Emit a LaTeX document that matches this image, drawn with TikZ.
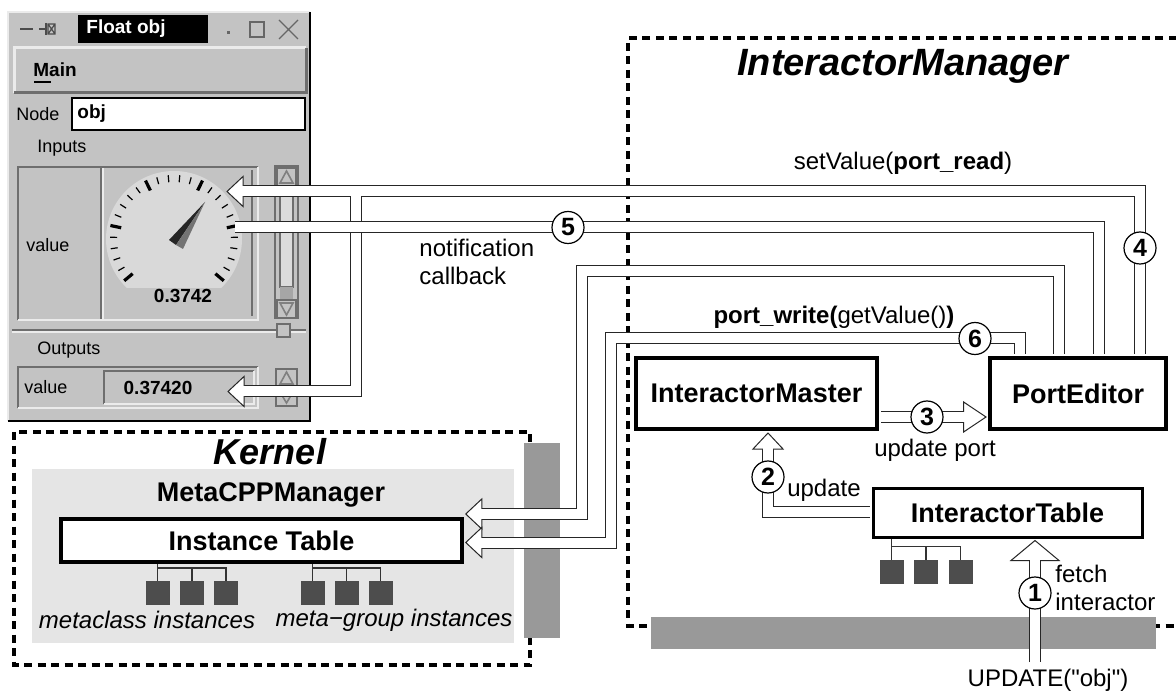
\documentclass[tikz,border=0pt]{standalone}
\usepackage{fontspec}
\setmainfont{Liberation Sans}
\newfontfamily\plainsans{Liberation Sans}
\usetikzlibrary{calc}

\definecolor{winbg}{RGB}{195,195,195}
\definecolor{winlt}{RGB}{235,235,235}
\definecolor{windk}{RGB}{110,110,110}
\definecolor{dialbg}{RGB}{217,217,217}
\definecolor{kernbg}{RGB}{229,229,229}
\definecolor{busgray}{RGB}{153,153,153}
\definecolor{instgray}{RGB}{77,77,77}

\begin{document}
\begin{tikzpicture}[x=0.5pt,y=-0.5pt,
  box/.style={draw, line width=2pt, fill=white, inner sep=0pt,
    font=\bfseries\fontsize{13.5}{16}\selectfont},
  num/.style={circle, draw, line width=0.6pt, fill=white, inner sep=0pt,
    minimum size=16pt, font=\bfseries\fontsize{12.5}{12}\selectfont},
  lbl/.style={inner sep=0pt, font=\fontsize{12}{14}\selectfont},
  gui/.style={inner sep=0pt, font=\fontsize{9}{10}\selectfont},
  guib/.style={gui, font=\bfseries\fontsize{9.5}{10}\selectfont},
  region/.style={line width=2pt, dash pattern=on 4pt off 2.75pt},
  pipe/.style={draw=white, line width=5pt,
    preaction={draw=black!85, line width=6pt}},
  sq/.style={draw=black!70, fill=instgray, line width=0.5pt,
    minimum size=11.5pt, inner sep=0pt},
  twig/.style={line width=0.6pt, black!80},
  hd/.pic={
    \filldraw[fill=white, draw=black!85, line width=0.5pt] (0,0) -- (16,-15) -- (16,15) -- cycle;
    \draw[white, line width=5pt] (15,0) -- (17,0);
  }]
\useasboundingbox (0,0) rectangle (1176,694);
\fill[white] (0,0) rectangle (1176,694);

% ---------- Float obj window ----------
\fill[winbg] (8,12) rectangle (310,421);
\draw[winlt, line width=1pt] (8,421) -- (8,12) -- (310,12);
\draw[black, line width=1.2pt] (310,12) -- (310,421) -- (8,421);
% title bar
\draw[black!70, line width=1pt] (20,29) -- (33,29) (39,29) -- (46,29) (46,23) -- (46,35);
\draw[black!70, line width=0.6pt] (48,24) rectangle (55,34) (48,24) -- (55,34) (48,34) -- (55,24);
\fill[black] (78,15) rectangle (208,43);
\node[guib, white, anchor=west] (wtitle) at (86,29) {Float obj};
\fill[black!60] (227,31) rectangle (230,34);
\draw[black!60, line width=0.6pt] (250,22) rectangle (264,37);
\draw[black!60, line width=0.6pt] (279,20) -- (298,39) (279,39) -- (298,20);
% Main button
\draw[winlt, line width=1.5pt] (14,93) -- (14,48) -- (306,48);
\draw[windk, line width=1.5pt] (14,93) -- (306,93) -- (306,48);
\node[guib, anchor=west] (wmain) at (33,70) {Main};
\draw[line width=1pt] (34,82) -- (51,82);
% node name field
\node[gui, anchor=west] (wnode) at (16,114) {Node};
\filldraw[fill=white, line width=1.3pt] (72,98) rectangle (305,130);
\node[guib, anchor=west] (wobj) at (77,114) {obj};
\node[gui, anchor=west] (winputs) at (37,148) {Inputs};
% inputs panel
\draw[windk, line width=1pt] (18,320) -- (18,167) -- (258,167);
\draw[winlt, line width=1pt] (18,320) -- (258,320) -- (258,167);
\draw[windk, line width=1pt] (101,168) -- (101,319);
\draw[winlt, line width=1pt] (103,168) -- (103,319);
\draw[windk, line width=0.8pt] (252,170) -- (252,316);
\node[gui, anchor=west] (wvalin) at (26,245) {value};
% dial
\coordinate (gc) at (174,239);
\begin{scope}
  \clip (104,168) rectangle (251,288);
  \fill[dialbg] (gc) circle (34pt);
\end{scope}
\foreach \i in {0,...,25}{
  \pgfmathsetmacro\a{220-10.4*\i}
  \pgfmathtruncatemacro\m{mod(\i,5)}
  \ifnum\m=0
    \draw[line width=1.6pt] ($(gc)+(\a:27pt)$) -- ($(gc)+(\a:32.5pt)$);
  \else
    \draw[line width=0.6pt] ($(gc)+(\a:28.5pt)$) -- ($(gc)+(\a:32pt)$);
  \fi
}
\fill[black!85] (205,202) -- (169,240) -- (176,245) -- cycle;
\fill[black!55] (205,202) -- (176,245) -- (183,249) -- cycle;
\node[guib] (wread) at (183,296) {0.3742};
% scrollbar
\filldraw[fill=winbg, draw=windk, line width=0.6pt] (275,166) rectangle (298,318);
\filldraw[fill=winbg, draw=windk, line width=0.6pt] (277,168) rectangle (296,186);
\draw[black!50, line width=0.8pt] (286.5,171) -- (280,183) -- (293,183) -- cycle;
\filldraw[fill=winlt!60!winbg, draw=windk, line width=0.6pt] (280,190) rectangle (293,287);
\fill[black!35] (280,287) rectangle (293,300);
\filldraw[fill=winbg, draw=windk, line width=0.6pt] (277,300) rectangle (296,318);
\draw[black!50, line width=0.8pt] (280,303) -- (293,303) -- (286.5,315) -- cycle;
\draw[windk, line width=0.8pt] (12,330) -- (306,330);
\draw[winlt, line width=0.8pt] (12,332) -- (306,332);
\filldraw[fill=winbg, draw=windk, line width=0.6pt] (277,324) rectangle (290,337);
% outputs panel
\node[gui, anchor=west] (woutputs) at (37,350) {Outputs};
\draw[windk, line width=1pt] (18,408) -- (18,367) -- (258,367);
\draw[winlt, line width=1pt] (18,408) -- (258,408) -- (258,367);
\node[gui, anchor=west] (wvalout) at (24,387) {value};
\draw[windk, line width=0.8pt] (104,404) -- (104,371) -- (254,371);
\draw[winlt, line width=0.8pt] (104,404) -- (254,404) -- (254,371);
\node[guib] (wfield) at (158,388) {0.37420};
\filldraw[fill=winbg, draw=windk, line width=0.6pt] (276,369) rectangle (297,387) (276,389) rectangle (297,406);
\draw[black!50, line width=0.8pt] (286.5,372) -- (280,384) -- (293,384) -- cycle;
\draw[black!50, line width=0.8pt] (280,392) -- (293,392) -- (286.5,403) -- cycle;

% ---------- Kernel ----------
\draw[region] (14,432) rectangle (530,665);
\node[font=\bfseries\itshape\fontsize{18}{20}\selectfont, inner sep=0pt] (tkern) at (270,452) {Kernel};
\fill[kernbg] (32,469) rectangle (514,643);
\node[font=\bfseries\fontsize{13.5}{16}\selectfont, inner sep=0pt] (tmeta) at (271,495) {MetaCPPManager};
\node[box, line width=1.75pt, minimum width=200.5pt, minimum height=21.5pt] (itab) at (261.5,540.5) {Instance Table};
\foreach \n/\x in {1/157.5, 2/192, 3/226, 4/312.5, 5/346.5, 6/380.5}
  \node[sq] (k\n) at (\x,593) {};
\draw[twig] (k1.north |- itab.south) -- (k1.north) (k1.north) ++(0,-13) -| (k2.north) (k1.north) ++(0,-13) -| (k3.north);
\draw[twig] (k4.north |- itab.south) -- (k4.north) (k4.north) ++(0,-13) -| (k5.north) (k4.north) ++(0,-13) -| (k6.north);
\node[lbl, font=\itshape\fontsize{12}{14}\selectfont] (lmc) at (147,620) {metaclass instances};
\node[lbl, font=\itshape\fontsize{12}{14}\selectfont] (lmg) at (394,620) {meta−group instances};
\fill[busgray] (524,443) rectangle (560,638);

% ---------- InteractorManager ----------
\draw[region] (1190,38) -- (628,38) -- (628,626) -- (1190,626);
\node[font=\bfseries\itshape\fontsize{19}{22}\selectfont, inner sep=0pt] (tim) at (903,66) {InteractorManager};
\fill[busgray] (651,617) rectangle (1156,649);
\node[box, minimum width=120.5pt, minimum height=35.5pt] (im) at (756.5,393.5) {InteractorMaster};
\node[box, minimum width=88pt, minimum height=35.5pt] (pe) at (1078,393.5) {PortEditor};
\node[box, line width=1.5pt, minimum width=134.5pt, minimum height=24.5pt] (it) at (1007.5,512.5) {InteractorTable};
\foreach \n/\x in {1/891.5, 2/926, 3/960.5}
  \node[sq] (q\n) at (\x,571.5) {};
\draw[twig] (q1.north |- it.south) -- (q1.north) (q1.north) ++(0,-13) -| (q2.north) (q1.north) ++(0,-13) -| (q3.north);

% ---------- pipes ----------
\coordinate (gin) at (227,191.5);
\coordinate (gout) at (228,391.5);
\coordinate (gdial) at (235,227.5);
\coordinate (fork) at (356,191.5);
\coordinate (bendA) at (582,271);
\coordinate (bendB) at (610.5,338.5);
\coordinate (ta) at ($(itab.east)+(2,-26.5)$);
\coordinate (tb) at ($(itab.east)+(2,2)$);
\coordinate (t1) at ($(it.south)+(27.5,2)$);
\coordinate (t2) at ($(im.south)+(11.5,2)$);
\coordinate (t3) at ($(pe.west)+(-2,23.5)$);
\coordinate (src) at (1035,662);

\draw[pipe] ($(pe.north)+(62,-2)$) |- ($(gin)+(16,0)$) (fork) |- ($(gout)+(16,0)$);
\draw[pipe] ($(pe.north)+(20.5,-2)$) |- (gdial);
\draw[pipe] ($(pe.north)+(-19,-2)$) |- (bendA) |- ($(ta)+(16,0)$);
\draw[pipe] ($(pe.north)+(-58,-2)$) |- (bendB) |- ($(tb)+(16,0)$);
\draw[pipe] ($(im.east)+(2,23.5)$) -- ($(t3)+(-22,0)$);
\draw[pipe] ($(it.west)+(-1.5,-1)$) -| ($(t2)+(0,16)$);
\draw[pipe] (src) -- ($(t1)+(0,20)$);

\pic at (gin) {hd};
\pic at (gout) {hd};
\pic at (ta) {hd};
\pic at (tb) {hd};
\pic[rotate=180, xscale=1.4] at (t3) {hd};
\pic[rotate=-90] at (t2) {hd};
\pic[rotate=-90, xscale=1.25, yscale=1.6] at (t1) {hd};

% step numbers
\node[num] (c1) at (1035,593) {1};
\node[num] (c2) at (768,477) {2};
\node[num] (c3) at (927,417) {3};
\node[num] (c4) at (1140,248) {4};
\node[num] (c5) at (568,227.5) {5};
\node[num] (c6) at (975,338.5) {6};

% call labels
\node[lbl] (lset) at (903,163) {setValue(\textbf{port\_read})};
\node[lbl, align=left, anchor=west] (lnotif) at (419,262) {notification\\callback};
\node[lbl] (lwrite) at (834,317) {\textbf{port\_write(}getValue()\textbf{)}};
\node[lbl] (lupdport) at (935,450) {update port};
\node[lbl] (lupd) at (824,490) {update};
\node[lbl, align=left, anchor=west] (lfetch) at (1055,588) {fetch\\interactor};
\node[lbl] (lsrc) at (1048,680) {\plainsans UPDATE("obj")};
\end{tikzpicture}
\end{document}
